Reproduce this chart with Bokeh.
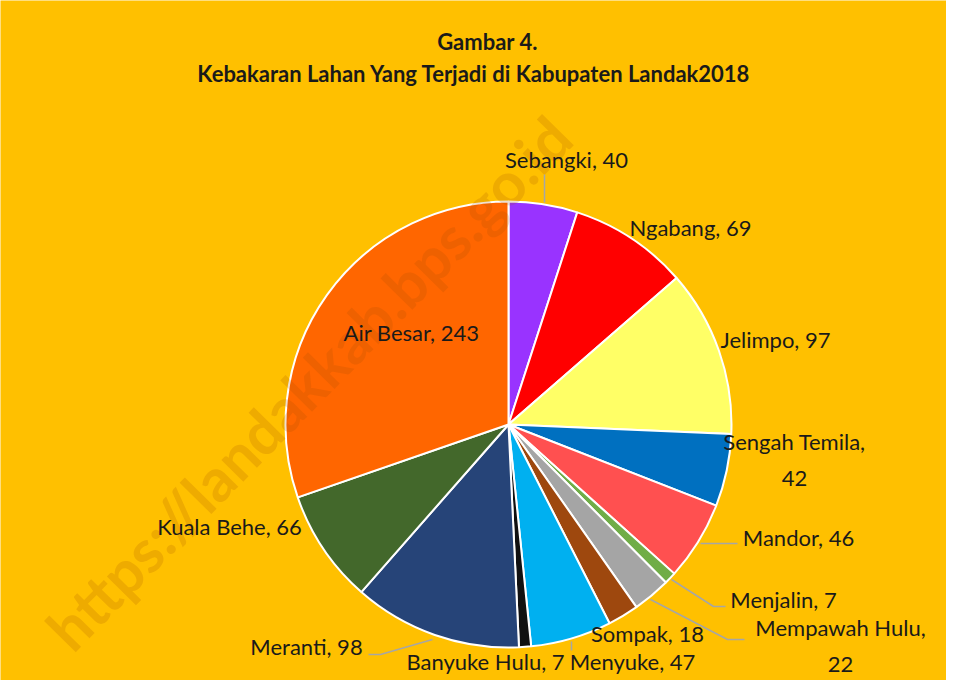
import math
from bokeh.plotting import figure
from bokeh.models import Range1d, ColumnDataSource
from bokeh.core.properties import value
from bokeh.embed import file_html
from bokeh.resources import INLINE

# ---- data ----
districts = ["Sebangki", "Ngabang", "Jelimpo", "Sengah Temila", "Mandor", "Menjalin",
             "Mempawah Hulu", "Sompak", "Menyuke", "Banyuke Hulu", "Meranti",
             "Kuala Behe", "Air Besar"]
fires = [40, 69, 97, 42, 46, 7, 22, 18, 47, 7, 98, 66, 243]
title_line1 = "Gambar 4."
title_line2 = "Kebakaran  Lahan  Yang  Terjadi  di Kabupaten  Landak2018"
watermark = "https://landakkab.bps.go.id"

# ---- styles / layout ----
colors = ["#9933FF", "#FF0000", "#FFFF66", "#0070C0", "#FF5050", "#70AD47",
          "#A5A5A5", "#9E480E", "#00B0F0", "#111111", "#264478", "#43682B", "#FF6600"]
wrapped = {"Sengah Temila", "Mempawah Hulu"}
# label centres in reference pixels (x, y from top-left)
label_px = [(566, 163), (690, 231), (775, 343), (794, 463), (798, 541), (783, 603),
            (840, 649), (647, 637), (632, 665), (485, 665), (306, 650), (229, 530),
            (411, 336)]
leaders_px = [
    [(544, 178), (544, 206)],
    [(700, 547), (737, 547)],
    [(671, 583), (713, 610), (725, 610)],
    [(650, 603), (727, 643), (744, 643)],
    [(571, 645), (571, 654)],
    [(368, 658), (380, 658), (432, 643)],
]

W, H = 946, 680
BG = "#FFC000"
FONT = "Lato"


def dx(X):
    return X


def dy(Y):
    return 684 - Y


cx, cy, R = dx(508), dy(428), 223

total = sum(fires)
starts, ends = [], []
cum = 0
for v in fires:
    starts.append(math.pi / 2 - 2 * math.pi * cum / total)
    cum += v
    ends.append(math.pi / 2 - 2 * math.pi * cum / total)

src = ColumnDataSource(dict(name=districts, value=fires, start=starts, end=ends, color=colors))

p = figure(width=W, height=H, output_backend="svg", toolbar_location=None,
           x_range=Range1d(0, W), y_range=Range1d(0, H), min_border=0)
p.axis.visible = False
p.grid.visible = False
p.outline_line_color = None
p.background_fill_color = BG
p.border_fill_color = BG

p.wedge(x=cx, y=cy, radius=R, start_angle="start", end_angle="end", direction="clock",
        fill_color="color", line_color="white", line_width=2, source=src)

# watermark (drawn over the pie, translucent)
p.text(x=[dx(308)], y=[dy(386)], text=[watermark], angle=math.radians(45.5),
       text_font=value(FONT), text_font_style="bold", text_font_size="60px",
       text_color="#A05000", text_alpha=0.18, text_align="center", text_baseline="middle")

# leader lines
for pts in leaders_px:
    p.line([dx(a) for a, b in pts], [dy(b) for a, b in pts], line_color="#A6A6A6", line_width=1.5)

labels = [(f"{d},\n{v}" if d in wrapped else f"{d}, {v}") for d, v in zip(districts, fires)]
lsrc = ColumnDataSource(dict(x=[dx(a) for a, b in label_px], y=[dy(b) for a, b in label_px], text=labels))
p.text(x="x", y="y", text="text", source=lsrc, text_font=value(FONT), text_font_size="22px",
       text_color="#1A1A1A", text_align="center", text_baseline="middle", text_line_height=1.3)

p.text(x=[dx(487)], y=[dy(45)], text=[title_line1], text_font=value(FONT), text_font_style="bold",
       text_font_size="22px", text_color="#1A1A1A", text_align="center", text_baseline="middle")
p.text(x=[dx(487)], y=[dy(77)], text=[title_line2], text_font=value(FONT), text_font_style="bold",
       text_font_size="22px", text_color="#1A1A1A", text_align="center", text_baseline="middle")

open("out.html", "w").write(file_html(p, INLINE))
